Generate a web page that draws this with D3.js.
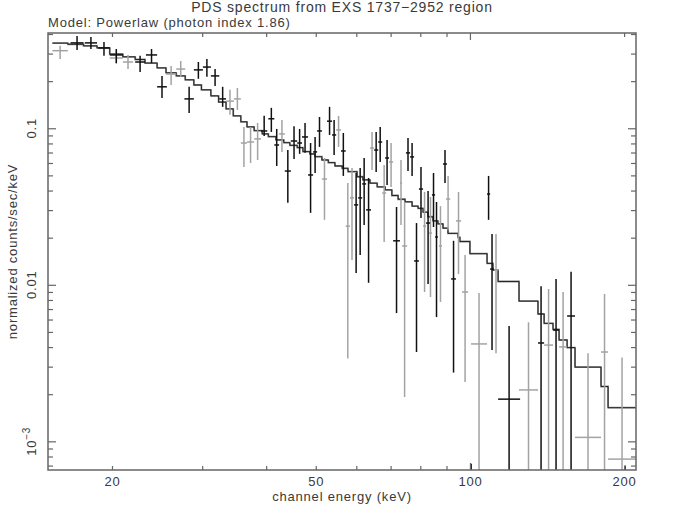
<!DOCTYPE html>
<html>
<head>
<meta charset="utf-8">
<script src="https://cdn.jsdelivr.net/npm/d3@7"></script>
<style>
  body { margin: 0; background: #fff; }
  text { font-family: "Liberation Sans", Arial, sans-serif; fill: #3a3a3a; letter-spacing: 0.8px; }
</style>
</head>
<body>
<div class="chart"></div>
<script>
var svgWidth = 677;
var svgHeight = 511;

var margin = {
  top: 33,
  right: 41,
  bottom: 41,
  left: 48
};

var width = svgWidth - margin.left - margin.right;
var height = svgHeight - margin.top - margin.bottom;

// Axis ranges and ticks
var energyDomain = [15, 211];
var rateDomain = [6.56e-4, 0.406];
var xMinorTicks = [20, 30, 40, 50, 60, 70, 80, 90, 200];
var xMajorTicks = [100];
var xTickLabels = [20, 50, 100, 200];
var yMajorTicks = [0.001, 0.01, 0.1];
var yMinorTicks = [7e-4, 8e-4, 9e-4,
  0.002, 0.003, 0.004, 0.005, 0.006, 0.007, 0.008, 0.009,
  0.02, 0.03, 0.04, 0.05, 0.06, 0.07, 0.08, 0.09,
  0.2, 0.3, 0.4];

// Model (powerlaw, photon index 1.86) folded through response: bin edges (keV) and values
var modelEdges = [15.3, 16.4, 17.6, 18.7, 19.8, 21.0, 22.2, 23.2, 24.5, 25.5, 26.7, 27.8, 28.9, 29.9,
  31.2, 32.3, 33.4, 34.5, 35.7, 36.7, 37.9, 39.3, 40.4, 41.8, 43.3, 44.5, 46.0, 47.2, 48.7, 49.8,
  51.4, 52.9, 54.5, 56.3, 57.8, 60.2, 61.8, 63.8, 65.9, 68.3, 70.4, 72.4, 74.7, 77.1, 79.2, 81.0,
  82.8, 84.7, 86.6, 88.6, 90.6, 94.8, 95.6, 100.0, 108.0, 110.9, 113.5, 124.7, 135.8, 139.6, 145.3,
  149.3, 154.8, 160.4, 180.3, 186.1, 211];
var modelValues = [0.350, 0.344, 0.336, 0.326, 0.298, 0.286, 0.275, 0.261, 0.243, 0.226, 0.216,
  0.204, 0.189, 0.176, 0.161, 0.147, 0.133, 0.120, 0.110, 0.102, 0.0965, 0.0920, 0.0884, 0.0842,
  0.0809, 0.0778, 0.0752, 0.0709, 0.0685, 0.0658, 0.0627, 0.0603, 0.0574, 0.0555, 0.0528, 0.0490,
  0.0468, 0.0446, 0.0422, 0.0404, 0.0372, 0.0352, 0.0339, 0.0318, 0.0308, 0.0291, 0.0272, 0.0256,
  0.0245, 0.0230, 0.0213, 0.0201, 0.0189, 0.0158, 0.0137, 0.0124, 0.0105, 0.00787, 0.00651,
  0.00567, 0.00519, 0.00444, 0.00397, 0.00298, 0.00224, 0.00164];

// Data: [energy low, energy high, rate, rate low, rate high]
var blackPoints = [
  [16.6, 17.6, 0.351, 0.316, 0.389],
  [17.7, 18.7, 0.351, 0.321, 0.383],
  [18.8, 19.8, 0.326, 0.290, 0.356],
  [19.8, 21.0, 0.294, 0.261, 0.321],
  [22.2, 23.2, 0.265, 0.229, 0.290],
  [23.3, 24.5, 0.294, 0.261, 0.321],
  [24.5, 25.6, 0.184, 0.156, 0.216],
  [27.7, 28.9, 0.154, 0.125, 0.184],
  [28.9, 30.1, 0.236, 0.207, 0.265],
  [30.1, 31.2, 0.246, 0.213, 0.277],
  [31.2, 32.4, 0.216, 0.186, 0.239],
  [32.4, 33.4, 0.154, 0.137, 0.184],
  [39.1, 40.2, 0.0961, 0.0893, 0.120],
  [40.4, 41.5, 0.115, 0.0947, 0.135],
  [41.5, 42.4, 0.0782, 0.0574, 0.099],
  [43.5, 44.7, 0.0533, 0.0334, 0.0726],
  [44.7, 46.0, 0.0829, 0.0636, 0.103],
  [46.0, 47.0, 0.0805, 0.0686, 0.099],
  [47.0, 48.3, 0.0880, 0.0697, 0.108],
  [48.3, 49.4, 0.0503, 0.0288, 0.0805],
  [49.4, 50.3, 0.0706, 0.0518, 0.0880],
  [50.3, 51.4, 0.0961, 0.0760, 0.118],
  [52.6, 53.8, 0.111, 0.0906, 0.137],
  [53.8, 54.8, 0.0906, 0.0675, 0.113],
  [56.0, 57.2, 0.0716, 0.0496, 0.0933],
  [59.4, 60.5, 0.0324, 0.0119, 0.0518],
  [60.5, 61.6, 0.0359, 0.0155, 0.0557],
  [61.6, 62.7, 0.0441, 0.0241, 0.0646],
  [62.7, 64.1, 0.0301, 0.0103, 0.0481],
  [65.0, 66.2, 0.0726, 0.0526, 0.0947],
  [66.2, 67.4, 0.0817, 0.0609, 0.102],
  [68.3, 69.5, 0.0646, 0.0434, 0.0842],
  [70.8, 73.0, 0.0191, 0.0066, 0.0314],
  [75.0, 76.4, 0.0696, 0.0533, 0.0868],
  [76.4, 77.8, 0.0656, 0.0496, 0.0805],
  [77.8, 79.5, 0.0142, 0.00372, 0.0248],
  [79.5, 81.0, 0.0409, 0.0267, 0.0566],
  [82.1, 83.6, 0.0248, 0.0101, 0.0398],
  [84.3, 85.5, 0.0375, 0.0234, 0.0518],
  [85.5, 86.6, 0.0202, 0.00622, 0.0338],
  [88.6, 90.2, 0.0591, 0.0447, 0.0726],
  [91.9, 93.9, 0.0109, 0.00275, 0.0191],
  [99.2, 101.9, 0.0004, 0, 0.00072],
  [108.0, 109.5, 0.0380, 0.0260, 0.0496],
  [109.5, 111.4, 0.0126, 0.00383, 0.0211],
  [113.5, 125.3, 0.00186, 0, 0.00545],
  [135.8, 139.6, 0.00425, 0, 0.0098],
  [145.3, 149.3, 0.00514, 0, 0.0109],
  [154.8, 160.4, 0.00632, 0, 0.0121],
  [196.4, 205.4, 0.0004, 0, 0.0007]
];

var grayPoints = [
  [15.3, 16.4, 0.313, 0.277, 0.336],
  [19.8, 21.0, 0.281, 0.258, 0.312],
  [21.0, 22.0, 0.265, 0.239, 0.294],
  [25.5, 26.7, 0.222, 0.189, 0.250],
  [26.7, 27.8, 0.239, 0.213, 0.269],
  [33.4, 34.6, 0.149, 0.122, 0.176],
  [34.6, 35.7, 0.154, 0.131, 0.181],
  [35.7, 36.7, 0.0805, 0.0565, 0.102],
  [36.7, 37.9, 0.0817, 0.0600, 0.102],
  [37.9, 39.1, 0.0855, 0.0627, 0.108],
  [42.4, 43.5, 0.0920, 0.0706, 0.113],
  [51.4, 52.6, 0.0474, 0.0260, 0.0646],
  [54.8, 56.0, 0.0975, 0.0760, 0.120],
  [57.2, 58.3, 0.0237, 0.00338, 0.0447],
  [58.3, 59.4, 0.0359, 0.0144, 0.0557],
  [63.8, 65.0, 0.0748, 0.0541, 0.0947],
  [67.4, 68.6, 0.0386, 0.0188, 0.0583],
  [69.5, 70.8, 0.0609, 0.0422, 0.0805],
  [73.0, 73.7, 0.0447, 0.0241, 0.0627],
  [73.7, 75.4, 0.0177, 0.00192, 0.0338],
  [81.0, 82.1, 0.0237, 0.00899, 0.0392],
  [83.2, 84.3, 0.0214, 0.00836, 0.0364],
  [87.0, 88.2, 0.0177, 0.00777, 0.0318],
  [89.8, 91.5, 0.0353, 0.0224, 0.0496],
  [93.9, 96.1, 0.0256, 0.0117, 0.0392],
  [96.5, 99.2, 0.00899, 0.00239, 0.0155],
  [100.5, 108.0, 0.00419, 0, 0.00886],
  [111.4, 113.5, 0.0124, 0.00366, 0.0211],
  [124.7, 135.8, 0.00213, 0, 0.00576],
  [139.6, 145.3, 0.00412, 0, 0.0094],
  [149.3, 154.8, 0.00401, 0, 0.00899],
  [160.4, 180.3, 0.00106, 0, 0.00366],
  [180.3, 186.1, 0.00372, 0, 0.00873],
  [186.1, 211, 0.00077, 0, 0.00343]
];

var svg = d3.select(".chart")
  .append("svg")
  .attr("width", svgWidth)
  .attr("height", svgHeight);

var chartGroup = svg.append("g")
  .attr("transform", `translate(${margin.left}, ${margin.top})`);

// Scales
var xScale = d3.scaleLog().domain(energyDomain).range([0, width]);
var yScale = d3.scaleLog().domain(rateDomain).range([height, 0]);
var yc = v => yScale(Math.max(v, 1e-6));

svg.append("defs").append("clipPath").attr("id", "plot-clip")
  .append("rect").attr("width", width).attr("height", height);

var plot = chartGroup.append("g").attr("clip-path", "url(#plot-clip)");

// Model step lines (gray under black)
var modelLine = d3.line()
  .x(d => xScale(d[0]))
  .y(d => yScale(d[1]))
  .curve(d3.curveStepAfter);
var modelPts = modelEdges.map((e, i) => [e, modelValues[Math.min(i, modelValues.length - 1)]]);

plot.append("path").datum(modelPts)
  .attr("d", modelLine)
  .attr("fill", "none").attr("stroke", "#8a8a8a").attr("stroke-width", 1.8);
plot.append("path").datum(modelPts)
  .attr("d", modelLine)
  .attr("fill", "none").attr("stroke", "#1a1a1a").attr("stroke-width", 0.9);

// Crosses
function drawCrosses(points, colour) {
  var g = plot.append("g").attr("stroke", colour).attr("stroke-width", 1.5);
  g.selectAll("line.h").data(points).enter().append("line").attr("class", "h")
    .attr("x1", d => xScale(d[0])).attr("x2", d => xScale(d[1]))
    .attr("y1", d => yc(d[2])).attr("y2", d => yc(d[2]));
  g.selectAll("line.v").data(points).enter().append("line").attr("class", "v")
    .attr("x1", d => xScale(Math.sqrt(d[0] * d[1]))).attr("x2", d => xScale(Math.sqrt(d[0] * d[1])))
    .attr("y1", d => yc(d[3])).attr("y2", d => yc(d[4]));
}
drawCrosses(grayPoints, "#a3a3a3");
drawCrosses(blackPoints, "#111");

// Axes: inward ticks on all four sides
function styleAxis(g) {
  g.select(".domain").remove();
  g.selectAll("line").attr("stroke", "#666").attr("stroke-width", 1.2);
}
chartGroup.append("g").attr("transform", `translate(0, ${height})`)
  .call(d3.axisBottom(xScale).tickValues(xMinorTicks).tickSize(-4).tickFormat("")).call(styleAxis);
chartGroup.append("g").attr("transform", `translate(0, ${height})`)
  .call(d3.axisBottom(xScale).tickValues(xMajorTicks).tickSize(-7).tickFormat("")).call(styleAxis);
chartGroup.append("g")
  .call(d3.axisTop(xScale).tickValues(xMinorTicks).tickSize(-4).tickFormat("")).call(styleAxis);
chartGroup.append("g")
  .call(d3.axisTop(xScale).tickValues(xMajorTicks).tickSize(-7).tickFormat("")).call(styleAxis);
chartGroup.append("g")
  .call(d3.axisLeft(yScale).tickValues(yMinorTicks).tickSize(-5).tickFormat("")).call(styleAxis);
chartGroup.append("g")
  .call(d3.axisLeft(yScale).tickValues(yMajorTicks).tickSize(-8).tickFormat("")).call(styleAxis);
chartGroup.append("g").attr("transform", `translate(${width}, 0)`)
  .call(d3.axisRight(yScale).tickValues(yMinorTicks).tickSize(-5).tickFormat("")).call(styleAxis);
chartGroup.append("g").attr("transform", `translate(${width}, 0)`)
  .call(d3.axisRight(yScale).tickValues(yMajorTicks).tickSize(-8).tickFormat("")).call(styleAxis);

// x tick labels
var xLab = chartGroup.append("g").attr("transform", `translate(0, ${height})`)
  .call(d3.axisBottom(xScale).tickValues(xTickLabels).tickSize(0).tickPadding(7).tickFormat(d3.format("d")));
xLab.select(".domain").remove();
xLab.attr("font-family", null).attr("font-size", null);
xLab.selectAll("text").style("font-size", "13px").attr("fill", "#3a3a3a");

// y tick labels, rotated
chartGroup.append("text")
  .attr("transform", `translate(-12, ${yScale(0.1)}) rotate(-90)`)
  .attr("text-anchor", "middle").style("font-size", "13px").text("0.1");
chartGroup.append("text")
  .attr("transform", `translate(-12, ${yScale(0.01)}) rotate(-90)`)
  .attr("text-anchor", "middle").style("font-size", "13px").text("0.01");
var expLab = chartGroup.append("text")
  .attr("transform", `translate(-12, ${yScale(0.001)}) rotate(-90)`)
  .attr("text-anchor", "middle").style("font-size", "13px");
expLab.append("tspan").text("10");
expLab.append("tspan").attr("dy", -6).style("font-size", "10px").text("\u22123");

// Axis titles
chartGroup.append("text")
  .attr("transform", `translate(-31, ${height / 2}) rotate(-90)`)
  .attr("text-anchor", "middle").style("font-size", "13px")
  .text("normalized counts/sec/keV");

chartGroup.append("text")
  .attr("x", width / 2).attr("y", height + 31)
  .attr("text-anchor", "middle").style("font-size", "13px")
  .text("channel energy (keV)");

svg.append("text")
  .attr("x", margin.left + width / 2).attr("y", 12)
  .attr("text-anchor", "middle").style("font-size", "14px")
  .text("PDS spectrum from EXS 1737\u22122952 region");

svg.append("text")
  .attr("x", margin.left).attr("y", 27)
  .style("font-size", "13px")
  .text("Model: Powerlaw (photon index 1.86)");

// Frame
chartGroup.append("rect")
  .attr("width", width).attr("height", height)
  .attr("fill", "none").attr("stroke", "#666").attr("stroke-width", 1.5);
</script>
</body>
</html>
